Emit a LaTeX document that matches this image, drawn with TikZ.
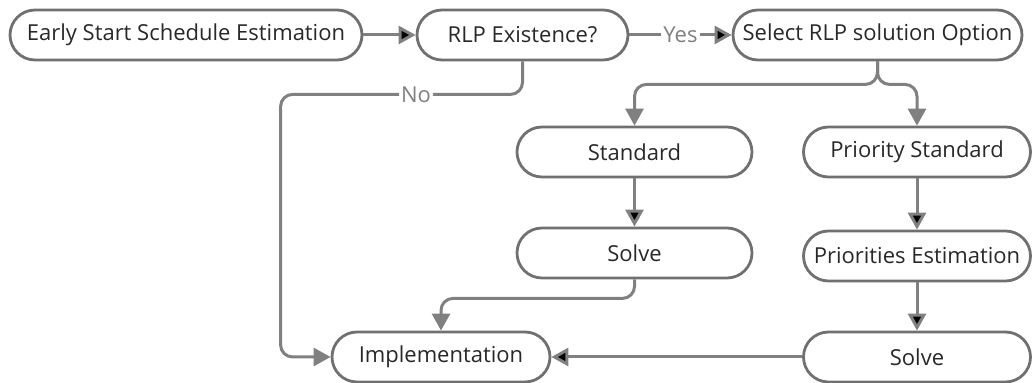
\documentclass[tikz,border=0pt]{standalone}
\usepackage{fontspec}
\setmainfont{Open Sans}
\usepackage{xcolor}
\usetikzlibrary{arrows.meta, positioning}

\definecolor{linegray}{RGB}{128,128,128}
\definecolor{boxgray}{RGB}{112,112,112}
\definecolor{textgray}{RGB}{40,40,40}

\begin{document}
\begin{tikzpicture}[x=0.5pt, y=-0.5pt,
        stage/.style={draw=boxgray, line width=1.4pt, rounded corners=12.5pt, minimum height=25pt,
                      inner sep=0pt, text=textgray, font=\fontsize{11}{13}\selectfont},
        flow/.style={draw=linegray, line width=1.5pt, -{Triangle[length=8.5pt, width=9pt]}},
        lbl/.style={fill=white, text=linegray, inner sep=1pt, font=\fontsize{11}{13}\selectfont}]
        \useasboundingbox (0,0) rectangle (1034,383);

        \node[stage, minimum width=176pt] (early) at (186,35) {Early Start Schedule Estimation};
        \node[stage, minimum width=105.5pt] (rlp) at (522.5,35) {RLP Existence?};
        \node[stage, minimum width=144.5pt] (select) at (877.5,35) {Select RLP solution Option};

        \node[stage, minimum width=117.5pt] (std) at (634.5,152) {Standard};
        \node[stage, minimum width=117.5pt] (solve1) at (634.5,253) {Solve};

        \node[stage, minimum width=113.5pt] (prio) at (917,152) {Priority Standard};
        \node[stage, minimum width=113.5pt] (prioest) at (917,256) {Priorities Estimation};
        \node[stage, minimum width=113.5pt] (solve2) at (917,357) {Solve};

        \node[stage, minimum width=109pt] (impl) at (441,357) {Implementation};

        \path[flow]
        (early) edge (rlp)
        (rlp) edge node[lbl] {Yes} (select)
        (std) edge (solve1)
        (prio) edge (prioest)
        (prioest) edge (solve2)
        (solve2) edge (impl);

        \draw[flow, rounded corners=6pt] (rlp.south) -- ++(0,33) -| node[lbl, pos=0.22] {No} ([xshift=-25pt]impl.west) -- (impl.west);
        \draw[flow, rounded corners=6pt] (select.south) -- ++(0,23) -| (std.north);
        \draw[flow, rounded corners=6pt] (select.south) -- ++(0,23) -| (prio.north);
        \draw[flow, rounded corners=6pt] (solve1.south) -- ++(0,19) -| (impl.north);
\end{tikzpicture}
\end{document}
